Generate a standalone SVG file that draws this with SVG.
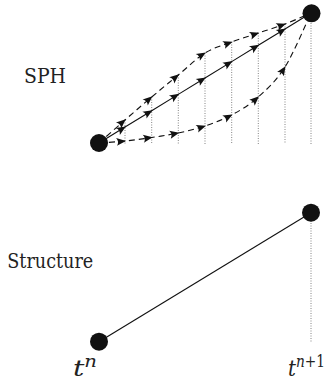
<svg xmlns="http://www.w3.org/2000/svg" width="327" height="382" viewBox="0 0 327 382">
<style>
.node{fill:#111}
.solid{fill:none;stroke:#111;stroke-width:1.1}
.dash{fill:none;stroke:#111;stroke-width:1.1;stroke-dasharray:6 4}
.dot{fill:none;stroke:#777;stroke-width:0.9;stroke-dasharray:1 1.5}
text{font-family:'DejaVu Serif','Liberation Serif',serif;fill:#222}
.it{font-style:italic}
</style>
<defs>
<marker id="arr" markerUnits="userSpaceOnUse" markerWidth="14" markerHeight="12" viewBox="-10 -6 12 12" refX="0" refY="0" orient="auto">
<path d="M1,0 L-8.5,-4 Q-5.5,0 -8.5,4 Z" fill="#111"/>
</marker>
</defs>
<g id="guides">
<path class="dot" d="M125,120V144 M151.7,97V144 M178.3,75V144 M205,53V144 M231.7,42V144 M258.3,33V144 M285,24V144 M311,13V144"/>
<path class="dot" d="M311,213V342"/>
</g>
<g id="connectors">
<path class="solid" marker-mid="url(#arr)" d="M99,143 L125,127.06 L151.7,110.68 L178.3,94.37 L205,78 L231.7,61.63 L258.3,45.32 L285,28.94 L311,13"/>
<path class="dash" marker-mid="url(#arr)" d="M99,143 C103.3,139.2 116.2,127.7 125,120 C133.8,112.3 142.8,104.5 151.7,97 C160.6,89.5 169.4,82.3 178.3,75 C187.2,67.7 196.1,58.5 205,53 C213.9,47.5 222.8,45.3 231.7,42 C240.6,38.7 249.4,36 258.3,33 C267.2,30 276.2,27.3 285,24 C293.8,20.7 306.7,14.8 311,13"/>
<path class="dash" marker-mid="url(#arr)" d="M99,143 C103.3,142.7 116.2,141.9 125,141 C133.8,140.1 142.8,138.8 151.7,137.5 C160.6,136.2 169.4,134.9 178.3,133 C187.2,131.1 196.1,129 205,126 C213.9,123 222.8,119.8 231.7,115 C240.6,110.2 249.4,105 258.3,97 C267.2,89 276.2,81 285,67 C293.8,53 306.7,22 311,13"/>
<path class="solid" d="M99,341.7 L311,212.7"/>
</g>
<g id="node-sph-start"><circle class="node" cx="99" cy="143" r="9"/></g>
<g id="node-sph-end"><circle class="node" cx="311.5" cy="13.3" r="9"/></g>
<g id="node-str-start"><circle class="node" cx="99" cy="341.7" r="9"/></g>
<g id="node-str-end"><circle class="node" cx="311" cy="212.7" r="9"/></g>
<g id="labels">
<text x="24" y="83" font-size="20" textLength="42" lengthAdjust="spacingAndGlyphs">SPH</text>
<text x="7.3" y="267.5" font-size="20" textLength="86" lengthAdjust="spacingAndGlyphs">Structure</text>
<text x="73" y="376" font-size="23" textLength="24" lengthAdjust="spacingAndGlyphs"><tspan class="it">t</tspan><tspan class="it" dy="-9" font-size="16">n</tspan></text>
<text x="288" y="376" font-size="23" textLength="37" lengthAdjust="spacingAndGlyphs"><tspan class="it">t</tspan><tspan class="it" dy="-9" font-size="16">n</tspan><tspan font-size="16">+1</tspan></text>
</g>
</svg>
